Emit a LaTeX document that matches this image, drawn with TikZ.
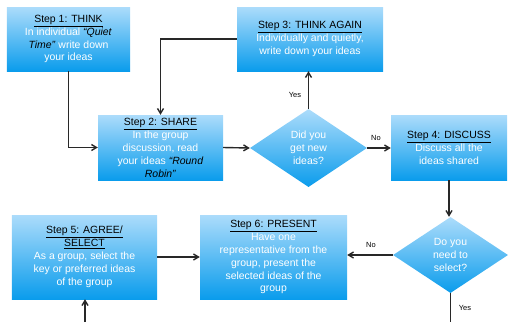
\documentclass[tikz,border=0pt]{standalone}
\usepackage{fontspec}
\setmainfont{Liberation Sans}
\usetikzlibrary{shapes.geometric,arrows.meta}
\definecolor{topblue}{RGB}{172,220,251}
\definecolor{botblue}{RGB}{10,156,236}
\definecolor{linegray}{RGB}{40,40,40}
\tikzset{
  stepbox/.style={rectangle, top color=topblue, bottom color=botblue, draw=none,
    inner sep=1bp, align=center, text=white, font=\fontsize{10.5}{13}\selectfont},
  decision/.style={diamond, top color=topblue, bottom color=botblue, draw=none, inner sep=0pt},
  dtext/.style={align=center, text=white, font=\fontsize{10.5}{13}\selectfont},
  arr/.style={draw=linegray, line width=1.4bp, -{Straight Barb[length=5bp,width=6bp]}},
  ln/.style={draw=linegray, line width=1.4bp},
  lab/.style={font=\fontsize{7.5}{9}\selectfont, text=black, inner sep=0pt}
}
\newcommand{\ttl}[1]{\textcolor{black}{\underline{#1}}}
\newcommand{\blk}[1]{\textcolor{black}{\textit{#1}}}
\begin{document}
\begin{tikzpicture}[x=1bp,y=-1bp]
\useasboundingbox (0,0) rectangle (508,322);
\node[stepbox, minimum width=123bp, minimum height=64bp] (s1) at (68.5,39)
  {\ttl{Step 1: THINK}\\In individual \blk{“Quiet}\\\blk{Time”} write down\\your ideas};
\node[stepbox, minimum width=146bp, minimum height=64bp] (s3) at (310,39)
  {\ttl{Step 3: THINK AGAIN}\\Individually and quietly,\\write down your ideas};
\node[stepbox, minimum width=125bp, minimum height=65bp] (s2) at (160.5,147.5)
  {\ttl{Step 2: SHARE}\\In the group\\discussion, read\\your ideas \blk{“Round}\\\blk{Robin”}};
\node[decision, minimum width=117bp, minimum height=78bp] (d1) at (308.5,148) {};
\node[dtext] (d1t) at (d1.center) {Did you\\get new\\ideas?};
\node[stepbox, minimum width=116bp, minimum height=65bp] (s4) at (449,147.5)
  {\ttl{Step 4: DISCUSS}\\Discuss all the\\ideas shared};
\node[decision, minimum width=115bp, minimum height=76bp] (d2) at (450.5,255) {};
\node[dtext] (d2t) at (d2.center) {Do you\\need to\\select?};
\node[stepbox, minimum width=145bp, minimum height=84bp] (s5) at (84.5,257)
  {\ttl{Step 5: AGREE/}\\\ttl{SELECT}\\As a group, select the\\key or preferred ideas\\of the group};
\node[stepbox, minimum width=147bp, minimum height=84bp] (s6) at (273.5,257)
  {\ttl{Step 6: PRESENT}\\Have one\\representative from the\\group, present the\\selected ideas of the\\group};
\coordinate (b5) at (85,322);
\coordinate (b2) at (450.5,322);
\draw[arr] (s1.south) |- (s2.west);
\draw[arr] (s3.west) -| (s2.north);
\draw[arr] (s2.east) -- (d1.west);
\draw[arr] (d1.north) -- (d1.north |- s3.south);
\draw[arr] (d1.east) -- (d1.east -| s4.west);
\draw[arr] (s4.south) -- (s4.south |- d2.north);
\draw[arr] (d2.west) -- (d2.west -| s6.east);
\draw[arr] (s5.east) -- (s5.east -| s6.west);
\draw[arr] (b5) -- (b5 |- s5.south);
\draw[ln] (d2.south) -- (b2);
\node[lab] (y1) at (295,95) {Yes};
\node[lab] (n1) at (376,138) {No};
\node[lab] (n2) at (371,245) {No};
\node[lab] (y2) at (465,308) {Yes};
\end{tikzpicture}
\end{document}
